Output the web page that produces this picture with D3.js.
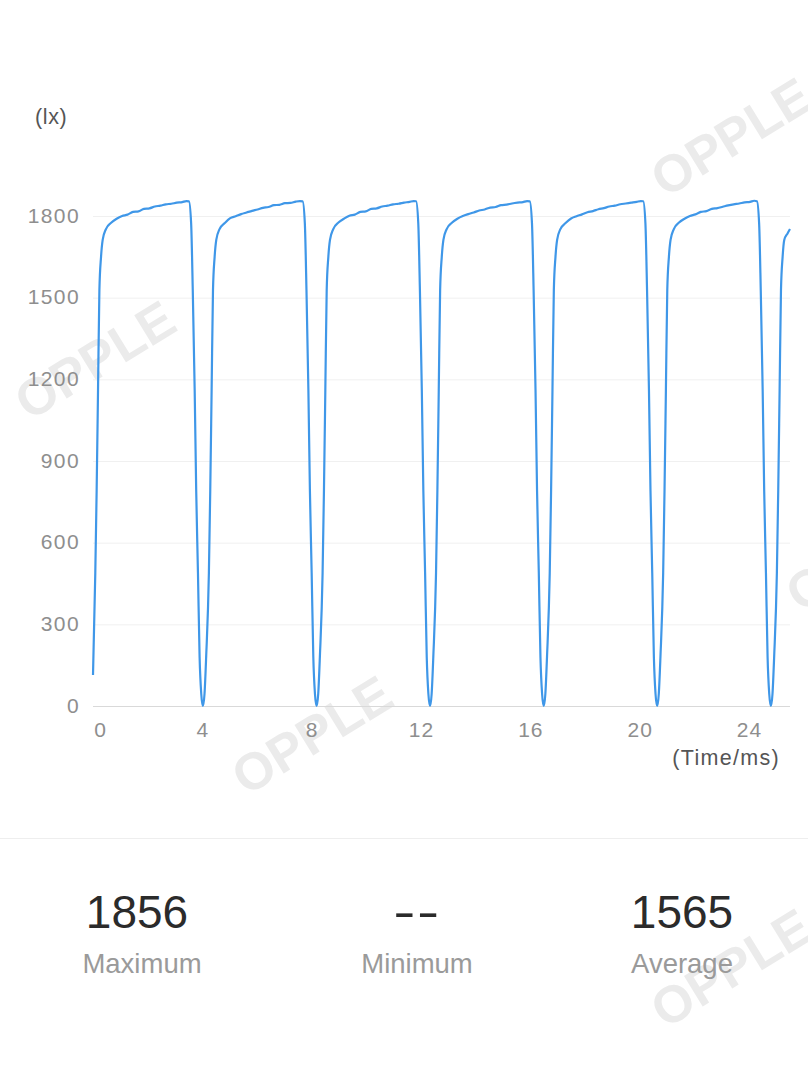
<!DOCTYPE html>
<html>
<head>
<meta charset="utf-8">
<script src="https://cdn.jsdelivr.net/npm/d3@7"></script>
<style>
  html, body { margin: 0; padding: 0; background: #fff; }
  svg { display: block; font-family: "Liberation Sans", Arial, sans-serif; }
</style>
</head>
<body>
<svg id="chart" width="808" height="1077"></svg>
<script>
// ---- data ----
const timeMs = [
  0.000, 0.084, 0.134, 0.184, 0.234, 0.294, 0.354, 0.474, 0.664, 0.864, 1.064, 1.264, 1.464, 1.664, 1.864, 2.064, 2.264, 2.464, 2.664, 2.864, 3.064, 3.264, 3.414,
  3.51, 3.59, 3.65, 3.72, 3.775, 3.84, 3.90, 3.96, 4.02,
  4.08, 4.14, 4.24, 4.29, 4.34, 4.39, 4.45, 4.51, 4.63, 4.82, 5.02, 5.22, 5.42, 5.62, 5.82, 6.02, 6.22, 6.42, 6.62, 6.82, 7.02, 7.22, 7.42, 7.57,
  7.67, 7.75, 7.81, 7.88, 7.935, 8.00, 8.06, 8.12, 8.18,
  8.24, 8.30, 8.40, 8.45, 8.50, 8.55, 8.61, 8.67, 8.79, 8.98, 9.18, 9.38, 9.58, 9.78, 9.98, 10.18, 10.38, 10.58, 10.78, 10.98, 11.18, 11.38, 11.58, 11.73,
  11.82, 11.90, 11.96, 12.03, 12.085, 12.15, 12.21, 12.27, 12.33,
  12.39, 12.45, 12.55, 12.60, 12.65, 12.70, 12.76, 12.82, 12.94, 13.13, 13.33, 13.53, 13.73, 13.93, 14.13, 14.33, 14.53, 14.73, 14.93, 15.13, 15.33, 15.53, 15.73, 15.88,
  15.98, 16.06, 16.12, 16.19, 16.245, 16.31, 16.37, 16.43, 16.49,
  16.55, 16.61, 16.71, 16.76, 16.81, 16.86, 16.92, 16.98, 17.10, 17.29, 17.49, 17.69, 17.89, 18.09, 18.29, 18.49, 18.69, 18.89, 19.09, 19.29, 19.49, 19.69, 19.89, 20.04,
  20.13, 20.21, 20.27, 20.34, 20.395, 20.46, 20.52, 20.58, 20.64,
  20.70, 20.76, 20.86, 20.91, 20.96, 21.01, 21.07, 21.13, 21.25, 21.44, 21.64, 21.84, 22.04, 22.24, 22.44, 22.64, 22.84, 23.04, 23.24, 23.44, 23.64, 23.84, 24.04, 24.19,
  24.29, 24.37, 24.43, 24.50, 24.555, 24.62, 24.68, 24.74, 24.80,
  24.86, 24.92, 25.02, 25.07, 25.12, 25.17, 25.23, 25.29, 25.41, 25.50
];
const illuminanceLx = [
  114, 489, 794, 1161, 1528, 1650, 1712, 1752, 1775, 1790, 1800, 1805, 1815, 1817, 1826, 1828, 1835, 1838, 1843, 1845, 1849, 1851, 1855,
  1854, 1774, 1528, 1161, 794, 489, 180, 45, 0,
  45, 180, 489, 794, 1161, 1528, 1650, 1712, 1752, 1774, 1792, 1799, 1807, 1813, 1819, 1824, 1830, 1833, 1840, 1841, 1847, 1848, 1853, 1855,
  1854, 1774, 1528, 1161, 794, 489, 180, 45, 0,
  45, 180, 489, 794, 1161, 1528, 1650, 1712, 1752, 1776, 1790, 1801, 1805, 1815, 1817, 1826, 1828, 1835, 1838, 1843, 1845, 1849, 1852, 1855,
  1854, 1774, 1528, 1161, 794, 489, 180, 45, 0,
  45, 180, 489, 794, 1161, 1528, 1650, 1712, 1752, 1775, 1790, 1800, 1807, 1813, 1820, 1824, 1831, 1833, 1840, 1842, 1846, 1849, 1851, 1855,
  1854, 1774, 1528, 1161, 794, 489, 180, 45, 0,
  45, 180, 489, 794, 1161, 1528, 1650, 1712, 1752, 1774, 1791, 1799, 1806, 1814, 1818, 1825, 1829, 1835, 1838, 1843, 1846, 1849, 1852, 1855,
  1854, 1774, 1528, 1161, 794, 489, 180, 45, 0,
  45, 180, 489, 794, 1161, 1528, 1650, 1712, 1752, 1776, 1790, 1800, 1806, 1815, 1818, 1826, 1829, 1834, 1839, 1843, 1846, 1850, 1852, 1856,
  1854, 1774, 1528, 1161, 794, 489, 180, 45, 0,
  45, 180, 489, 794, 1161, 1528, 1650, 1712, 1736, 1752
];
const yTicks = [0, 300, 600, 900, 1200, 1500, 1800];
const xTicks = [0, 4, 8, 12, 16, 20, 24];
const statValues = ["1856", "--", "1565"];
const statLabels = ["Maximum", "Minimum", "Average"];
const watermarkText = "OPPLE";

// ---- layout ----
const svg = d3.select("#chart");
const W = 808, H = 1077;
const FONT = "'Liberation Sans', Arial, sans-serif";
svg.append("rect").attr("width", W).attr("height", H).attr("fill", "#fff");

const x = d3.scaleLinear().domain([0, 25.5]).range([93, 790]);
const y = d3.scaleLinear().domain([0, 1800]).range([706, 216]);

// watermarks (behind everything)
const wmPos = [[95, 360], [312, 735], [731, 137], [866, 552], [731, 968]];
svg.append("g").selectAll("text").data(wmPos).join("text")
  .attr("transform", d => `translate(${d[0]},${d[1]}) rotate(-31.5)`)
  .attr("text-anchor", "middle")
  .attr("dominant-baseline", "central")
  .attr("font-size", 52)
  .attr("font-weight", "bold")
  .attr("fill", "#ebebeb")
  .text(watermarkText);

// grid + y axis
const yAxis = d3.axisLeft(y).tickValues(yTicks).tickSize(-(790 - 93)).tickPadding(13).tickFormat(d3.format("d"));
const gy = svg.append("g").attr("transform", "translate(93,0)").call(yAxis);
gy.select(".domain").remove();
gy.selectAll(".tick line").attr("stroke", d => d === 0 ? "#d9d9d9" : "#f0f0f0").attr("stroke-width", 1);
gy.selectAll(".tick text").attr("fill", "#8e8e8e").attr("font-size", 21)
  .attr("letter-spacing", 1.4).attr("dy", "0.30em")
  .attr("font-family", FONT);

// x axis labels
const xAxis = d3.axisBottom(x).tickValues(xTicks).tickSize(0).tickPadding(16).tickFormat(d3.format("d"));
const gx = svg.append("g").attr("transform", "translate(0,706)").call(xAxis);
gx.select(".domain").remove();
gx.selectAll(".tick text").attr("fill", "#8e8e8e").attr("font-size", 21)
  .attr("letter-spacing", 1)
  .attr("font-family", FONT)
  .attr("dx", d => d === 0 ? 7 : 0);

// axis names
svg.append("text").attr("x", 35).attr("y", 124).attr("font-size", 21.5).attr("letter-spacing", 0.6).attr("fill", "#555").text("(lx)");
svg.append("text").attr("x", 780).attr("y", 765).attr("text-anchor", "end").attr("font-size", 21.5)
  .attr("letter-spacing", 1.3).attr("fill", "#555").text("(Time/ms)");

// line
const pts = timeMs.map((t, i) => [t, illuminanceLx[i]]);
const line = d3.line().x(d => x(d[0])).y(d => y(d[1])).curve(d3.curveMonotoneX);
svg.append("path").datum(pts).attr("d", line)
  .attr("fill", "none").attr("stroke", "#3f97e8").attr("stroke-width", 2.2)
  .attr("stroke-linejoin", "round");

// divider
svg.append("line").attr("x1", 0).attr("x2", W).attr("y1", 838.5).attr("y2", 838.5).attr("stroke", "#eeeeee");

// stats
const valX = [137, 417, 682];
const labX = [142, 417, 682];
const gs = svg.append("g");
gs.selectAll("text.val").data(statValues).join("text").attr("class", "val")
  .attr("transform", (d, i) => `translate(${valX[i]},928)` + (d === "--" ? " scale(1.45,1)" : ""))
  .attr("text-anchor", "middle")
  .attr("font-size", 46).attr("fill", "#2b2b2b")
  .attr("letter-spacing", (d) => d === "--" ? 1 : 0)
  .text(d => d);
gs.selectAll("text.lab").data(statLabels).join("text").attr("class", "lab")
  .attr("x", (d, i) => labX[i]).attr("y", 973).attr("text-anchor", "middle")
  .attr("font-size", 27.5).attr("fill", "#9a9a9a")
  .text(d => d);
</script>
</body>
</html>
